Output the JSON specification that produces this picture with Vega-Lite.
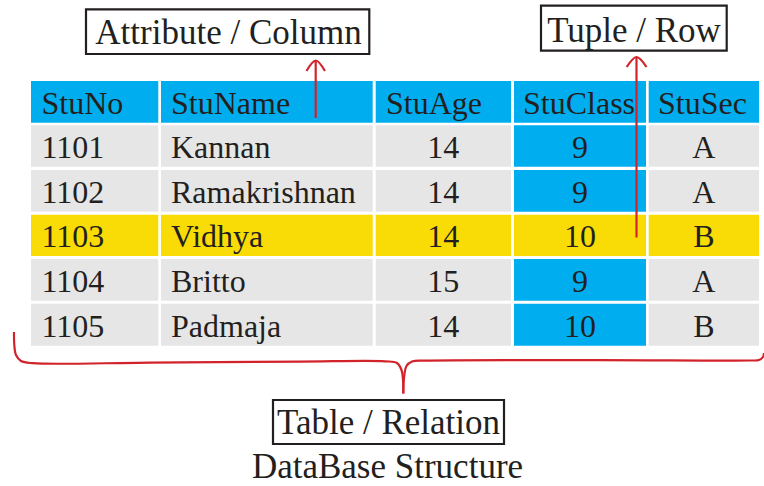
{
  "$schema": "https://vega.github.io/schema/vega-lite/v6.json",
  "width": 764,
  "height": 486,
  "padding": 0,
  "autosize": {"type": "none"},
  "background": "white",
  "config": {"view": {"stroke": null}},
  "datasets": {
    "columns": [
      {"col": "c1", "x0": 31, "x1": 158.3, "left": 41.5, "mid": 94.7, "bodyAlign": "left"},
      {"col": "c2", "x0": 161, "x1": 372.7, "left": 171, "mid": 266.8, "bodyAlign": "left"},
      {"col": "c3", "x0": 375.7, "x1": 511, "left": 386, "mid": 443.3, "bodyAlign": "center"},
      {"col": "c4", "x0": 514, "x1": 646, "left": 523, "mid": 580, "bodyAlign": "center"},
      {"col": "c5", "x0": 648.7, "x1": 759, "left": 658, "mid": 703.8, "bodyAlign": "center"}
    ],
    "rows": [
      {"row": 0, "y0": 81, "y1": 122.7},
      {"row": 1, "y0": 125.3, "y1": 166.7},
      {"row": 2, "y0": 170, "y1": 211.7},
      {"row": 3, "y0": 214.7, "y1": 256},
      {"row": 4, "y0": 259, "y1": 300.7},
      {"row": 5, "y0": 303.7, "y1": 345.7}
    ],
    "cells": [
      {"row": 0, "col": "c1", "text": "StuNo", "kind": "header"},
      {"row": 0, "col": "c2", "text": "StuName", "kind": "header"},
      {"row": 0, "col": "c3", "text": "StuAge", "kind": "header"},
      {"row": 0, "col": "c4", "text": "StuClass", "kind": "header"},
      {"row": 0, "col": "c5", "text": "StuSec", "kind": "header"},
      {"row": 1, "col": "c1", "text": "1101", "kind": "plain"},
      {"row": 1, "col": "c2", "text": "Kannan", "kind": "plain"},
      {"row": 1, "col": "c3", "text": "14", "kind": "plain"},
      {"row": 1, "col": "c4", "text": "9", "kind": "attribute"},
      {"row": 1, "col": "c5", "text": "A", "kind": "plain"},
      {"row": 2, "col": "c1", "text": "1102", "kind": "plain"},
      {"row": 2, "col": "c2", "text": "Ramakrishnan", "kind": "plain"},
      {"row": 2, "col": "c3", "text": "14", "kind": "plain"},
      {"row": 2, "col": "c4", "text": "9", "kind": "attribute"},
      {"row": 2, "col": "c5", "text": "A", "kind": "plain"},
      {"row": 3, "col": "c1", "text": "1103", "kind": "tuple"},
      {"row": 3, "col": "c2", "text": "Vidhya", "kind": "tuple"},
      {"row": 3, "col": "c3", "text": "14", "kind": "tuple"},
      {"row": 3, "col": "c4", "text": "10", "kind": "tuple"},
      {"row": 3, "col": "c5", "text": "B", "kind": "tuple"},
      {"row": 4, "col": "c1", "text": "1104", "kind": "plain"},
      {"row": 4, "col": "c2", "text": "Britto", "kind": "plain"},
      {"row": 4, "col": "c3", "text": "15", "kind": "plain"},
      {"row": 4, "col": "c4", "text": "9", "kind": "attribute"},
      {"row": 4, "col": "c5", "text": "A", "kind": "plain"},
      {"row": 5, "col": "c1", "text": "1105", "kind": "plain"},
      {"row": 5, "col": "c2", "text": "Padmaja", "kind": "plain"},
      {"row": 5, "col": "c3", "text": "14", "kind": "plain"},
      {"row": 5, "col": "c4", "text": "10", "kind": "attribute"},
      {"row": 5, "col": "c5", "text": "B", "kind": "plain"}
    ],
    "labels": [
      {"label": "Attribute / Column", "x0": 86, "x1": 369.3, "y0": 9.3, "y1": 54, "cx": 228.5, "base": 44.3},
      {"label": "Tuple / Row", "x0": 541, "x1": 726.7, "y0": 5.7, "y1": 50.7, "cx": 634, "base": 41.7},
      {"label": "Table / Relation", "x0": 273, "x1": 504, "y0": 400, "y1": 444, "cx": 388.5, "base": 433.5}
    ],
    "caption": [
      {"label": "DataBase Structure", "cx": 387.5, "base": 477.6}
    ],
    "strokes": [
      {"shape": "colShaft", "order": 1, "x": 315.7, "y": 118},
      {"shape": "colShaft", "order": 2, "x": 315.7, "y": 60.5},
      {"shape": "colHead", "order": 1, "x": 306.5, "y": 71},
      {"shape": "colHead", "order": 2, "x": 315.7, "y": 60.5},
      {"shape": "colHead", "order": 3, "x": 325, "y": 71},
      {"shape": "rowShaft", "order": 1, "x": 636.5, "y": 237.5},
      {"shape": "rowShaft", "order": 2, "x": 636.5, "y": 57},
      {"shape": "rowHead", "order": 1, "x": 626.7, "y": 67},
      {"shape": "rowHead", "order": 2, "x": 636.5, "y": 57},
      {"shape": "rowHead", "order": 3, "x": 646.5, "y": 67},
      {"shape": "braceL", "order": 1, "x": 14, "y": 332},
      {"shape": "braceL", "order": 2, "x": 14.3, "y": 345},
      {"shape": "braceL", "order": 3, "x": 16, "y": 355},
      {"shape": "braceL", "order": 4, "x": 21, "y": 361},
      {"shape": "braceL", "order": 5, "x": 33, "y": 363.2},
      {"shape": "braceL", "order": 6, "x": 150, "y": 362.6},
      {"shape": "braceL", "order": 7, "x": 300, "y": 361.6},
      {"shape": "braceL", "order": 8, "x": 385, "y": 361.3},
      {"shape": "braceL", "order": 9, "x": 397, "y": 363},
      {"shape": "braceL", "order": 10, "x": 401.5, "y": 370},
      {"shape": "braceL", "order": 11, "x": 403, "y": 380},
      {"shape": "braceL", "order": 12, "x": 403.3, "y": 393.5},
      {"shape": "braceR", "order": 1, "x": 403.3, "y": 393.5},
      {"shape": "braceR", "order": 2, "x": 404, "y": 378},
      {"shape": "braceR", "order": 3, "x": 406.5, "y": 366},
      {"shape": "braceR", "order": 4, "x": 412, "y": 361.5},
      {"shape": "braceR", "order": 5, "x": 425, "y": 360.6},
      {"shape": "braceR", "order": 6, "x": 600, "y": 360.2},
      {"shape": "braceR", "order": 7, "x": 750, "y": 360.5},
      {"shape": "braceR", "order": 8, "x": 759, "y": 360},
      {"shape": "braceR", "order": 9, "x": 763, "y": 357},
      {"shape": "braceR", "order": 10, "x": 764, "y": 353}
    ]
  },
  "layer": [
    {
      "data": {"name": "cells"},
      "transform": [
        {"lookup": "col", "from": {"data": {"name": "columns"}, "key": "col", "fields": ["x0", "x1"]}},
        {"lookup": "row", "from": {"data": {"name": "rows"}, "key": "row", "fields": ["y0", "y1"]}}
      ],
      "mark": {"type": "rect"},
      "encoding": {
        "x": {"field": "x0", "type": "quantitative", "scale": {"domain": [0, 764], "nice": false, "zero": false}, "axis": null},
        "x2": {"field": "x1"},
        "y": {"field": "y0", "type": "quantitative", "scale": {"domain": [0, 486], "nice": false, "zero": false, "reverse": true}, "axis": null},
        "y2": {"field": "y1"},
        "color": {
          "field": "kind", "type": "nominal", "legend": null,
          "scale": {"domain": ["header", "plain", "tuple", "attribute"], "range": ["#00aeef", "#e6e6e6", "#f9dc06", "#00aeef"]}
        }
      }
    },
    {
      "data": {"name": "cells"},
      "transform": [
        {"lookup": "col", "from": {"data": {"name": "columns"}, "key": "col", "fields": ["left", "bodyAlign"]}},
        {"lookup": "row", "from": {"data": {"name": "rows"}, "key": "row", "fields": ["y1"]}},
        {"filter": "datum.row == 0 || datum.bodyAlign == 'left'"}
      ],
      "mark": {"type": "text", "align": "left", "baseline": "alphabetic", "dy": -9, "font": "Liberation Serif", "fontSize": 32, "color": "#231f20"},
      "encoding": {
        "x": {"field": "left", "type": "quantitative", "scale": {"domain": [0, 764], "nice": false, "zero": false}, "axis": null},
        "y": {"field": "y1", "type": "quantitative", "scale": {"domain": [0, 486], "nice": false, "zero": false, "reverse": true}, "axis": null},
        "text": {"field": "text"}
      }
    },
    {
      "data": {"name": "cells"},
      "transform": [
        {"lookup": "col", "from": {"data": {"name": "columns"}, "key": "col", "fields": ["mid", "bodyAlign"]}},
        {"lookup": "row", "from": {"data": {"name": "rows"}, "key": "row", "fields": ["y1"]}},
        {"filter": "datum.row != 0 && datum.bodyAlign == 'center'"}
      ],
      "mark": {"type": "text", "align": "center", "baseline": "alphabetic", "dy": -9, "font": "Liberation Serif", "fontSize": 32, "color": "#231f20"},
      "encoding": {
        "x": {"field": "mid", "type": "quantitative", "scale": {"domain": [0, 764], "nice": false, "zero": false}, "axis": null},
        "y": {"field": "y1", "type": "quantitative", "scale": {"domain": [0, 486], "nice": false, "zero": false, "reverse": true}, "axis": null},
        "text": {"field": "text"}
      }
    },
    {
      "data": {"name": "strokes"},
      "mark": {"type": "line", "color": "#d2232a", "strokeWidth": 2.2, "interpolate": "catmull-rom"},
      "encoding": {
        "x": {"field": "x", "type": "quantitative", "scale": {"domain": [0, 764], "nice": false, "zero": false}, "axis": null},
        "y": {"field": "y", "type": "quantitative", "scale": {"domain": [0, 486], "nice": false, "zero": false, "reverse": true}, "axis": null},
        "detail": {"field": "shape", "type": "nominal"},
        "order": {"field": "order", "type": "quantitative"}
      }
    },
    {
      "data": {"name": "labels"},
      "mark": {"type": "rect", "fill": "white", "stroke": "#231f20", "strokeWidth": 2.2},
      "encoding": {
        "x": {"field": "x0", "type": "quantitative", "scale": {"domain": [0, 764], "nice": false, "zero": false}, "axis": null},
        "x2": {"field": "x1"},
        "y": {"field": "y0", "type": "quantitative", "scale": {"domain": [0, 486], "nice": false, "zero": false, "reverse": true}, "axis": null},
        "y2": {"field": "y1"}
      }
    },
    {
      "data": {"name": "labels"},
      "mark": {"type": "text", "align": "center", "baseline": "alphabetic", "font": "Liberation Serif", "fontSize": 35, "color": "#231f20"},
      "encoding": {
        "x": {"field": "cx", "type": "quantitative", "scale": {"domain": [0, 764], "nice": false, "zero": false}, "axis": null},
        "y": {"field": "base", "type": "quantitative", "scale": {"domain": [0, 486], "nice": false, "zero": false, "reverse": true}, "axis": null},
        "text": {"field": "label"}
      }
    },
    {
      "data": {"name": "caption"},
      "mark": {"type": "text", "align": "center", "baseline": "alphabetic", "font": "Liberation Serif", "fontSize": 35, "color": "#231f20"},
      "encoding": {
        "x": {"field": "cx", "type": "quantitative", "scale": {"domain": [0, 764], "nice": false, "zero": false}, "axis": null},
        "y": {"field": "base", "type": "quantitative", "scale": {"domain": [0, 486], "nice": false, "zero": false, "reverse": true}, "axis": null},
        "text": {"field": "label"}
      }
    }
  ]
}
